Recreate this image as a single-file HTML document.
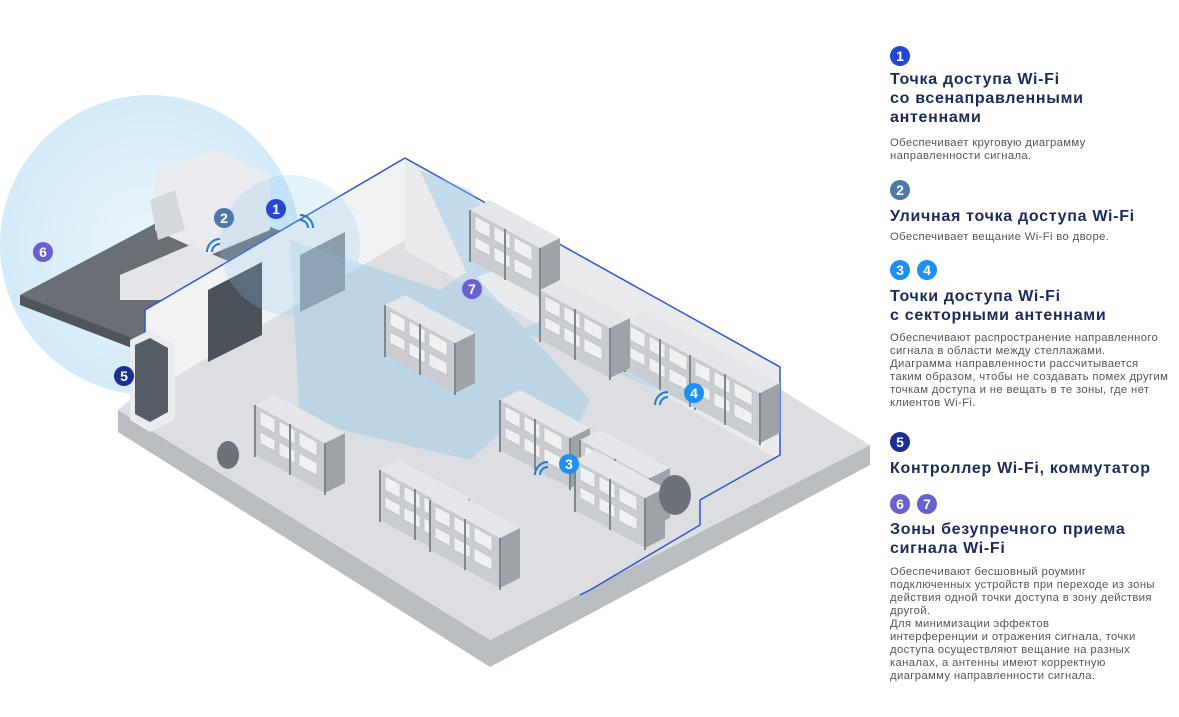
<!DOCTYPE html>
<html><head><meta charset="utf-8"><style>
body{margin:0;width:1179px;height:717px;background:#fff;overflow:hidden;position:relative;font-family:"Liberation Sans",sans-serif}
.b{position:absolute;width:20px;height:20px;border-radius:50%;color:#fff;font-weight:bold;font-size:14px;text-align:center;line-height:20px}
.h{position:absolute;left:890px;color:#1b2a5c;font-weight:bold;font-size:16px;letter-spacing:0.7px;line-height:19px;white-space:nowrap}
.t{position:absolute;left:890px;color:#555;font-size:11.3px;letter-spacing:0.35px;line-height:13px;white-space:nowrap}
</style></head><body>
<svg width="1179" height="717" style="position:absolute;left:0;top:0">
<defs>
<radialGradient id="g1" cx="0.5" cy="0.5" r="0.5"><stop offset="0" stop-color="#eaf5fc"/><stop offset="1" stop-color="#d3eaf8"/></radialGradient>
<g id="rk"><polygon points="0,0 70,38 70,88 0,50" fill="#c9ccd1"/><polygon points="70,38 90,28 90,78 70,88" fill="#9ea3aa"/><polygon points="0,0 20,-10 90,28 70,38" fill="#e4e6e9"/>
<g fill="#eef0f2" stroke="#b8bcc2" stroke-width="0.6"><polygon points="5,6 20,14 20,28 5,20"/><polygon points="24,16 40,25 40,39 24,30"/><polygon points="44,27 62,37 62,51 44,41"/><polygon points="5,27 20,35 20,46 5,38"/><polygon points="24,37 40,46 40,58 24,50"/><polygon points="44,48 62,58 62,70 44,61"/></g>
<g stroke="#7f858d" stroke-width="2"><line x1="0" y1="0" x2="0" y2="52"/><line x1="70" y1="38" x2="70" y2="90"/><line x1="35" y1="19" x2="35" y2="70"/></g></g>
</defs>
<circle cx="150" cy="245" r="150" fill="url(#g1)"/>
<polygon points="20,295 200,200 330,250 150,345 20,300" fill="#6a6f76"/>
<polygon points="20,295 20,305 150,355 150,345" fill="#50555b"/>
<polygon points="155,170 215,150 270,175 270,230 210,255 155,230" fill="#e9ebee"/><polygon points="150,200 175,190 185,230 158,240" fill="#d5d8dc"/>
<polygon points="120,275 190,245 250,270 185,300 120,300" fill="#e3e5e8"/>
<polygon points="118,410 490,640 870,445 870,465 490,667 118,432" fill="#b9bcc0"/>
<polygon points="118,410 420,165 870,445 490,640" fill="#dcdee1"/>
<polygon points="145,310 405,158 405,240 145,395" fill="#f1f2f4"/>
<polygon points="405,158 780,367 780,460 405,250" fill="#e8eaec"/>
<polygon points="208,290 262,262 262,335 208,362" fill="#4a5159"/>
<polygon points="300,255 345,232 345,290 300,312" fill="#8a9096"/>
<polyline points="145,310 145,400" stroke="#2f55d4" stroke-width="1.5" fill="none"/>
<polyline points="145,310 405,158 780,367 780,455 700,500 700,525 590,590 580,595" stroke="#2f55d4" stroke-width="1.5" fill="none"/>
<g fill="#8ec6ea" opacity="0.4">
<polygon points="290,240 470,300 560,380 470,460 300,420"/>
<polygon points="550,480 380,330 470,270 590,400"/>
<polygon points="680,400 520,330 590,300 700,380"/>
<polygon points="420,170 470,280 520,260 470,190"/>
<circle cx="290" cy="245" r="70" opacity="0.6"/>
</g>
<use href="#rk" x="470" y="210"/><use href="#rk" x="385" y="305"/><use href="#rk" x="625" y="320"/><use href="#rk" x="690" y="355"/>
<use href="#rk" x="500" y="400"/><use href="#rk" x="580" y="440"/><use href="#rk" x="255" y="405"/><use href="#rk" x="380" y="470"/>
<use href="#rk" x="430" y="500"/><use href="#rk" x="540" y="290"/><use href="#rk" x="575" y="460"/>
<polygon points="130,340 150,330 175,345 175,420 150,432 130,420" fill="#e9ebee"/><polygon points="135,345 150,338 168,348 168,412 150,422 135,414" fill="#555c65"/>
<ellipse cx="228" cy="455" rx="11" ry="14" fill="#6c7279"/><ellipse cx="675" cy="495" rx="16" ry="20" fill="#6c7279"/>
<g fill="none" stroke="#2178d6" stroke-width="2"><path d="M212,252a8,8 0 0 1 8,-8"/><path d="M207,252a13,13 0 0 1 13,-13"/><path d="M300,220a8,8 0 0 1 8,8"/><path d="M300,215a13,13 0 0 1 13,13"/><path d="M540,475a8,8 0 0 1 8,-8"/><path d="M535,475a13,13 0 0 1 13,-13"/><path d="M660,405a8,8 0 0 1 8,-8"/><path d="M655,405a13,13 0 0 1 13,-13"/></g>
</svg>
<div class="b" style="left:266px;top:199px;background:#2447d4">1</div>
<div class="b" style="left:214px;top:208px;background:#4d78a8">2</div>
<div class="b" style="left:559px;top:454px;background:#1e8ff5">3</div>
<div class="b" style="left:684px;top:383px;background:#1e8ff5">4</div>
<div class="b" style="left:114px;top:366px;background:#1a2f8f">5</div>
<div class="b" style="left:33px;top:242px;background:#6a5fcf">6</div>
<div class="b" style="left:462px;top:279px;background:#6a5fcf">7</div>

<div class="b" style="left:890px;top:46px;background:#2447d4">1</div>
<div class="h" style="top:70px">Точка доступа Wi-Fi<br>со всенаправленными<br>антеннами</div>
<div class="t" style="top:137px">Обеспечивает круговую диаграмму<br>направленности сигнала.</div>
<div class="b" style="left:890px;top:180px;background:#4d78a8">2</div>
<div class="h" style="top:207px">Уличная точка доступа Wi-Fi</div>
<div class="t" style="top:231px">Обеспечивает вещание Wi-Fi во дворе.</div>
<div class="b" style="left:890px;top:260px;background:#1e8ff5">3</div>
<div class="b" style="left:917px;top:260px;background:#1e8ff5">4</div>
<div class="h" style="top:287px">Точки доступа Wi-Fi<br>с секторными антеннами</div>
<div class="t" style="top:332px">Обеспечивают распространение направленного<br>сигнала в области между стеллажами.<br>Диаграмма направленности рассчитывается<br>таким образом, чтобы не создавать помех другим<br>точкам доступа и не вещать в те зоны, где нет<br>клиентов Wi-Fi.</div>
<div class="b" style="left:890px;top:432px;background:#1a2f8f">5</div>
<div class="h" style="top:459px">Контроллер Wi-Fi, коммутатор</div>
<div class="b" style="left:890px;top:494px;background:#6a5fcf">6</div>
<div class="b" style="left:917px;top:494px;background:#6a5fcf">7</div>
<div class="h" style="top:520px">Зоны безупречного приема<br>сигнала Wi-Fi</div>
<div class="t" style="top:566px">Обеспечивают бесшовный роуминг<br>подключенных устройств при переходе из зоны<br>действия одной точки доступа в зону действия<br>другой.<br>Для минимизации эффектов<br>интерференции и отражения сигнала, точки<br>доступа осуществляют вещание на разных<br>каналах, а антенны имеют корректную<br>диаграмму направленности сигнала.</div>
</body></html>
